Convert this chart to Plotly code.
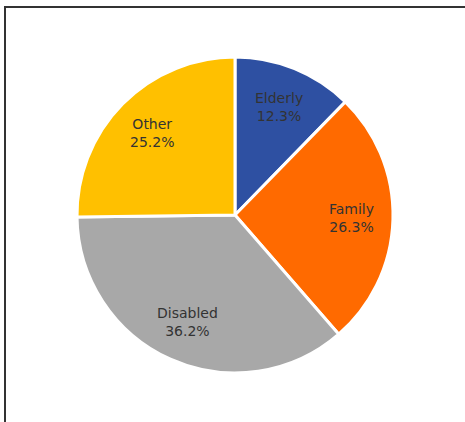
import math
import plotly.graph_objects as go

# Household categories and their share of the total (%)
categories = ["Elderly", "Family", "Disabled", "Other"]
shares = [12.3, 26.3, 36.2, 25.2]
slice_colors = ["#2E50A2", "#FF6A00", "#A8A8A8", "#FFC000"]

W, H = 465, 422
cx, cy, r = 235, 215, 158  # pie centre and radius in pixels
label_radius = 0.74         # label distance from centre, as a fraction of r

fig = go.Figure(
    go.Pie(
        labels=categories,
        values=shares,
        sort=False,
        direction="clockwise",
        rotation=0,
        marker=dict(colors=slice_colors, line=dict(color="white", width=3)),
        textinfo="none",
        hoverinfo="label+percent",
        showlegend=False,
        domain=dict(
            x=[(cx - r) / W, (cx + r) / W],
            y=[(H - cy - r) / H, (H - cy + r) / H],
        ),
    )
)

# Category labels placed along each slice's mid-angle (clockwise from 12 o'clock)
total = sum(shares)
start = 0.0
for name, val in zip(categories, shares):
    mid = (start + val / 2) / total * 2 * math.pi
    start += val
    px = cx + label_radius * r * math.sin(mid)
    py = cy - label_radius * r * math.cos(mid)
    fig.add_annotation(
        x=px / W, y=1 - py / H, xref="paper", yref="paper",
        xanchor="center", yanchor="middle",
        text=f"{name}<br>{val:.1f}%",
        showarrow=False,
        align="center",
        font=dict(family="DejaVu Sans", size=14, color="#333333"),
    )

# Frame around the chart area
fig.add_shape(
    type="rect",
    xref="paper", yref="paper",
    x0=5 / W, x1=1.05, y0=-0.05, y1=1 - 7 / H,
    line=dict(color="#333333", width=2),
    fillcolor="rgba(0,0,0,0)",
)

fig.update_layout(
    width=W,
    height=H,
    margin=dict(l=0, r=0, t=0, b=0),
    paper_bgcolor="white",
    plot_bgcolor="white",
)

fig.write_html("out.html")
